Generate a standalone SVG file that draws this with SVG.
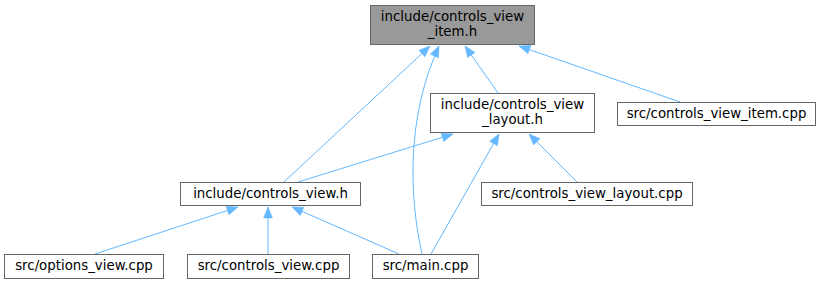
<svg xmlns="http://www.w3.org/2000/svg" width="822" height="285" viewBox="0 0 822 285">
  <defs>
    <marker id="arr" markerWidth="12" markerHeight="10" refX="11" refY="5" orient="auto" markerUnits="userSpaceOnUse" overflow="visible">
      <path d="M0,0.5 L11,5 L0,9.5 Z" fill="#63b8ff" stroke="#63b8ff" stroke-width="0.5"/>
    </marker>
    <style>
      .node rect { fill: #ffffff; stroke: #666666; stroke-width: 1; }
      #n0 rect { fill: #999999; }
      .node text { font-family: "DejaVu Sans", sans-serif; font-size: 13.33px; fill: #000000; text-anchor: middle; }
      .edge { fill: none; stroke: #63b8ff; stroke-width: 1; marker-end: url(#arr); }
    </style>
  </defs>
  <rect width="822" height="285" fill="#ffffff"/>

  <g id="edges">
    <!-- child -> parent; arrowhead sits at the parent -->
    <path class="edge" d="M498,93 L465,46"/>
    <path class="edge" d="M680,102 L519,46"/>
    <path class="edge" d="M284,182 L430,46"/>
    <path class="edge" d="M422,254 C410,200 405,120 439,46"/>
    <path class="edge" d="M298,182 L453,134"/>
    <path class="edge" d="M431,254 L499,134"/>
    <path class="edge" d="M577,182 L529,134"/>
    <path class="edge" d="M95,254 L238,207"/>
    <path class="edge" d="M268,254 L268,207"/>
    <path class="edge" d="M399,254 L292,207"/>
  </g>

  <g id="n0" class="node">
    <rect x="370.5" y="5.5" width="164" height="39"/>
    <text x="452.5" y="21">include/controls_view</text>
    <text x="452.5" y="36">_item.h</text>
  </g>
  <g id="n1" class="node">
    <rect x="430.5" y="93.5" width="164" height="39"/>
    <text x="512.5" y="109">include/controls_view</text>
    <text x="512.5" y="124">_layout.h</text>
  </g>
  <g id="n2" class="node">
    <rect x="617.5" y="102.5" width="198" height="23"/>
    <text x="716.5" y="118">src/controls_view_item.cpp</text>
  </g>
  <g id="n3" class="node">
    <rect x="180.5" y="182.5" width="180" height="23"/>
    <text x="270.5" y="198">include/controls_view.h</text>
  </g>
  <g id="n4" class="node">
    <rect x="481.5" y="182.5" width="211" height="23"/>
    <text x="587" y="198">src/controls_view_layout.cpp</text>
  </g>
  <g id="n5" class="node">
    <rect x="4.5" y="254.5" width="159" height="24"/>
    <text x="84" y="270">src/options_view.cpp</text>
  </g>
  <g id="n6" class="node">
    <rect x="187.5" y="254.5" width="162" height="24"/>
    <text x="268.5" y="270">src/controls_view.cpp</text>
  </g>
  <g id="n7" class="node">
    <rect x="372.5" y="254.5" width="106" height="24"/>
    <text x="425.5" y="270">src/main.cpp</text>
  </g>
</svg>
